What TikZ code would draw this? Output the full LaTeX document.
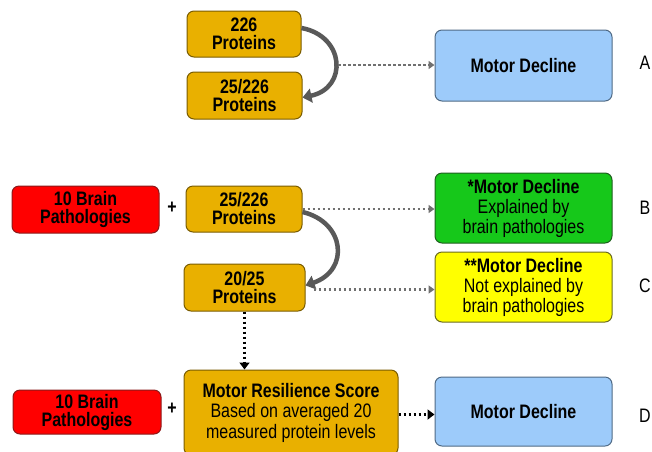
\documentclass[tikz,border=0pt]{standalone}
\usepackage{fontspec}
\setmainfont[FakeStretch=0.82]{Liberation Sans}
\usepackage{tikz}
\usetikzlibrary{
    arrows.meta,
    positioning
}

\definecolor{protfill}{HTML}{E9B000}
\definecolor{protline}{HTML}{7A5C00}
\definecolor{brainfill}{HTML}{FF0000}
\definecolor{brainline}{HTML}{8B1A1A}
\definecolor{declfill}{HTML}{9DCBFA}
\definecolor{declline}{HTML}{4F6A85}
\definecolor{explfill}{HTML}{16C81A}
\definecolor{explline}{HTML}{1F5F1F}
\definecolor{notfill}{HTML}{FFFF00}
\definecolor{notline}{HTML}{6B6B20}
\definecolor{bendgray}{HTML}{595959}
\definecolor{dotgray}{HTML}{707070}

\tikzset{
    box/.style={draw, line width=1pt, rounded corners=7pt, align=center,
                inner sep=0pt, font=\fontsize{19.5}{18}\selectfont},
    protbox/.style={box, fill=protfill, draw=protline, font=\fontsize{19.5}{18}\selectfont\bfseries},
    brainbox/.style={box, fill=brainfill, draw=brainline, font=\fontsize{19.5}{18}\selectfont\bfseries},
    declbox/.style={box, fill=declfill, draw=declline, minimum width=177pt},
    curvearrow/.style={bendgray, line width=4.5pt, -{Triangle[length=9pt,width=14pt]}},
    dotarrow/.style={dotgray, line width=2.5pt, dash pattern=on 2.5pt off 2.5pt,
                     -{Triangle[length=6pt,width=8pt]}},
    blackdot/.style={black, line width=2.5pt, dash pattern=on 2.5pt off 2.5pt,
                     -{Triangle[length=7pt,width=10pt]}},
    rowlabel/.style={font=\fontsize{19.5}{18}\selectfont},
    plus/.style={font=\fontsize{19.5}{18}\selectfont\bfseries}
}

\begin{document}
\begin{tikzpicture}[x=1pt, y=-1pt]
    \useasboundingbox (0,0) rectangle (652,451);

    % A
    \node[protbox, minimum width=114pt, minimum height=46pt] (p226) at (244,34) {226\\Proteins};
    \node[protbox, minimum width=115pt, minimum height=47pt] (p25a) at (244.5,95.5) {25/226\\Proteins};
    \node[declbox, minimum height=71pt, font=\fontsize{19.5}{18}\selectfont\bfseries] (mdA) at (523.5,65.5) {Motor Decline};
    \node[rowlabel] (labA) at (645,63) {A};

    \coordinate (bendA) at (338,65);
    \draw[curvearrow] ([yshift=6pt]p226.east) .. controls (345,36) and (348,88) .. ([yshift=-2pt]p25a.east);
    \draw[dotarrow] (bendA) -- (bendA -| mdA.west);

    % B
    \node[brainbox, minimum width=147pt, minimum height=47pt] (brainB) at (85.5,209.5) {10 Brain\\Pathologies};
    \node[plus] (plusB) at (172,208) {+};
    \node[protbox, minimum width=116pt, minimum height=46pt] (p25b) at (244,209) {25/226\\Proteins};
    \node[declbox, fill=explfill, draw=explline, minimum height=70pt, font=\fontsize{19.5}{20}\selectfont] (mdB) at (523.5,208)
        {\textbf{*Motor Decline}\\Explained by\\brain pathologies};
    \node[rowlabel] (labB) at (645,208) {B};

    \draw[dotarrow] (p25b.east) -- (p25b.east -| mdB.west);

    % C
    \node[protbox, minimum width=121pt, minimum height=47pt] (p2025) at (244.5,287.5) {20/25\\Proteins};
    \node[declbox, fill=notfill, draw=notline, minimum height=70pt, font=\fontsize{19.5}{20}\selectfont] (mdC) at (523.5,287)
        {\textbf{**Motor Decline}\\Not explained by\\brain pathologies};
    \node[rowlabel] (labC) at (645,286) {C};

    \draw[curvearrow] ([yshift=-3pt]p25b.east) .. controls (345,222) and (350,270) .. ([yshift=2pt]p2025.east);
    \draw[dotarrow] ([xshift=8pt,yshift=-2pt]p2025.east) -- ([yshift=-2pt]p2025.east -| mdC.west);

    % D
    \node[brainbox, minimum width=148pt, minimum height=44pt] (brainD) at (87,412) {10 Brain\\Pathologies};
    \node[plus] (plusD) at (172,409) {+};
    \node[box, fill=protfill, draw=protline, minimum width=214pt, minimum height=85pt,
          font=\fontsize{19.5}{20.5}\selectfont] (resil) at (291,412.5)
        {\textbf{Motor Resilience Score}\\Based on averaged 20\\measured protein levels};
    \node[declbox, minimum height=69pt, font=\fontsize{19.5}{18}\selectfont\bfseries] (mdD) at (523.5,411.5) {Motor Decline};
    \node[rowlabel] (labD) at (645,416) {D};

    \draw[blackdot] (p2025.south) -- (p2025.south |- resil.north);
    \draw[blackdot] ([yshift=-2pt]resil.east) -- ([yshift=-2pt]resil.east -| mdD.west);
\end{tikzpicture}
\end{document}
